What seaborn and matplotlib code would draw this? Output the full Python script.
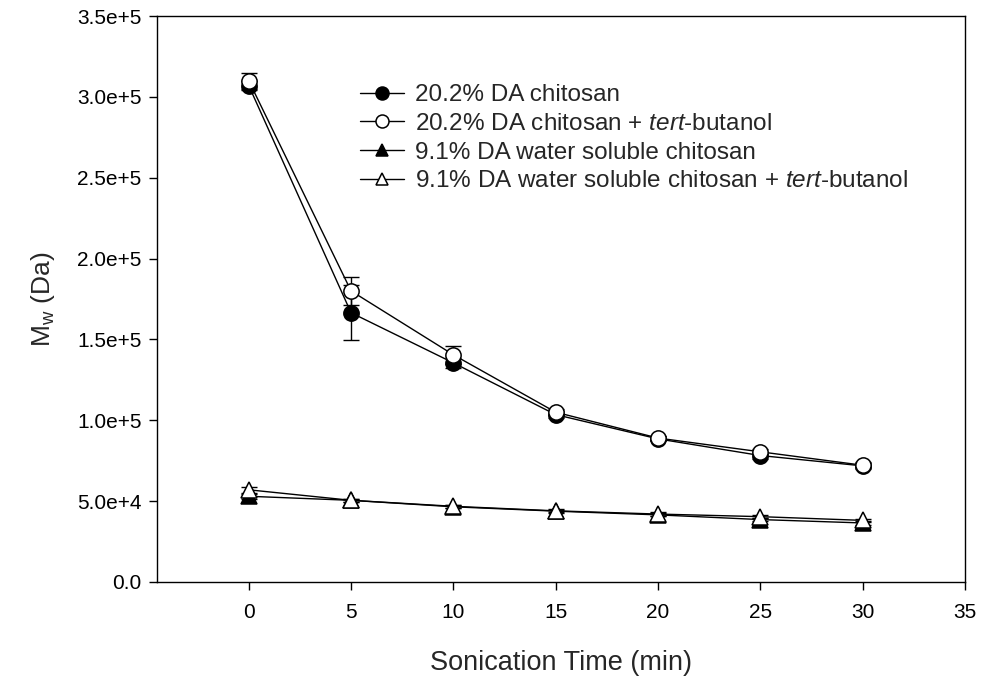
import matplotlib
matplotlib.use("Agg")
import matplotlib.pyplot as plt
import seaborn as sns

# Sonication time (min)
time_min = [0, 5, 10, 15, 20, 25, 30]

# Weight-average molecular weight (Da) and standard deviations
chitosan_202 = [3.07e5, 1.665e5, 1.355e5, 1.035e5, 0.885e5, 0.782e5, 0.718e5]
chitosan_202_err = [3.0e3, 1.7e4, 3.0e3, 2.0e3, 1.5e3, 2.0e3, 2.0e3]

chitosan_202_tb = [3.10e5, 1.80e5, 1.405e5, 1.05e5, 0.89e5, 0.805e5, 0.722e5]
chitosan_202_tb_err = [5.0e3, 8.8e3, 5.5e3, 2.0e3, 1.5e3, 1.5e3, 2.0e3]

ws_91 = [5.3e4, 5.05e4, 4.65e4, 4.38e4, 4.15e4, 3.86e4, 3.65e4]
ws_91_err = [1.5e3, 1.0e3, 1.0e3, 1.0e3, 1.0e3, 1.0e3, 1.0e3]

ws_91_tb = [5.7e4, 5.05e4, 4.68e4, 4.40e4, 4.20e4, 4.04e4, 3.81e4]
ws_91_tb_err = [2.0e3, 1.0e3, 1.0e3, 1.0e3, 1.0e3, 1.0e3, 1.0e3]

series_labels = [
    "20.2% DA chitosan",
    "20.2% DA chitosan + $\\it{tert}$-butanol",
    "9.1% DA water soluble chitosan",
    "9.1% DA water soluble chitosan + $\\it{tert}$-butanol",
]

x_ticks = [0, 5, 10, 15, 20, 25, 30, 35]
y_ticks = [0, 5e4, 1e5, 1.5e5, 2e5, 2.5e5, 3e5, 3.5e5]
y_tick_labels = ["0.0", "5.0e+4", "1.0e+5", "1.5e+5", "2.0e+5",
                 "2.5e+5", "3.0e+5", "3.5e+5"]

sns.set_style("ticks")
plt.rcParams["font.family"] = ["Liberation Sans", "DejaVu Sans"]
plt.rcParams["mathtext.fontset"] = "custom"
plt.rcParams["mathtext.rm"] = "Liberation Sans"
plt.rcParams["mathtext.it"] = "Liberation Sans:italic"

fig = plt.figure(figsize=(9.84, 6.81), dpi=100)
ax = fig.add_axes([0.1592, 0.1454, 0.8214, 0.8311])

styles = [
    (chitosan_202, chitosan_202_err, "o", "black"),
    (chitosan_202_tb, chitosan_202_tb_err, "o", "white"),
    (ws_91, ws_91_err, "^", "black"),
    (ws_91_tb, ws_91_tb_err, "^", "white"),
]

for i, ((vals, errs, mk, face), lab) in enumerate(zip(styles, series_labels)):
    ax.errorbar(time_min, vals, yerr=errs, fmt="none", ecolor="black",
                elinewidth=1.0, capsize=6, capthick=1.0, zorder=2 + 2 * i)
    sns.lineplot(x=time_min, y=vals, ax=ax, color="black", linewidth=1.0,
                 marker=mk, markersize=11, markerfacecolor=face,
                 markeredgecolor="black", markeredgewidth=1.1,
                 label=lab, zorder=3 + 2 * i)

ax.set_xlim(-4.5, 35)
ax.set_ylim(0, 3.5e5)
ax.set_xticks(x_ticks)
ax.set_xticklabels([str(v) for v in x_ticks])
ax.set_yticks(y_ticks)
ax.set_yticklabels(y_tick_labels)

ax.tick_params(axis="both", direction="out", length=6, width=1.0,
               labelsize=15, colors="black")
ax.tick_params(axis="x", pad=9)
ax.tick_params(axis="y", pad=5)
for side in ["left", "right", "top", "bottom"]:
    ax.spines[side].set_visible(True)
    ax.spines[side].set_color("black")
    ax.spines[side].set_linewidth(1.0)

ax.set_xlabel("Sonication Time (min)", fontsize=19.5, labelpad=20)
ax.set_ylabel("M$_{\\rm w}$ (Da)", fontsize=19, labelpad=14)

leg = ax.legend(loc="upper left", bbox_to_anchor=(360 / 984, 1 - 84 / 681),
                bbox_transform=fig.transFigure, frameon=False, fontsize=17.5,
                handlelength=1.8, handletextpad=0.45, labelspacing=0.28,
                markerscale=0.85, borderpad=0, borderaxespad=0)

fig.savefig("out.png", dpi=100, facecolor="white")
